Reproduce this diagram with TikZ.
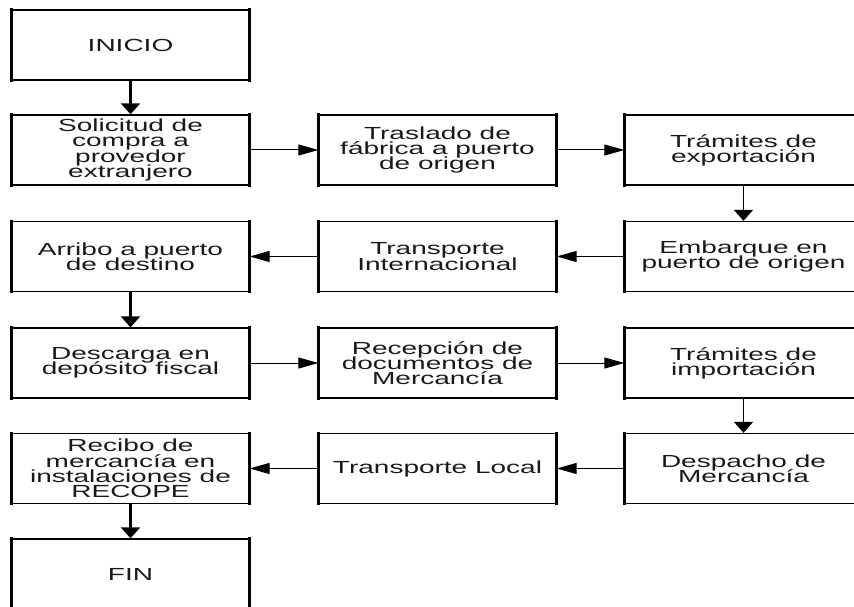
\documentclass[tikz,border=0pt]{standalone}
\usepackage{fontspec}
\setmainfont{Liberation Sans}[FakeStretch=1.6]
\usetikzlibrary{arrows.meta}
\begin{document}
\begin{tikzpicture}[x=1pt,y=-1pt,
  box/.style={draw=black,line width=1.3pt,minimum width=237pt,minimum height=70pt,inner sep=0pt,
    align=center,text=black!90,font=\fontsize{17.5pt}{15.2pt}\selectfont},
  harr/.style={line width=1pt,-{Triangle[length=20pt,width=11pt]}},
  varrL/.style={line width=2.4pt,-{Triangle[length=11pt,width=19pt]}},
  varrR/.style={line width=1.5pt,-{Triangle[length=11pt,width=19pt]}},
  side/.style={line width=2.5pt,line cap=rect}]
\useasboundingbox (0,0) rectangle (854,607);
\clip (0,0) rectangle (854,607);
\lineskiplimit=-20pt
% nodes
\node[box] (ini) at (130.5,45) {INICIO};
\node[box] (sol) at (130.5,150) {Solicitud de\\compra a\\provedor\\extranjero};
\node[box] (tra) at (437.5,150) {Traslado de\\fábrica a puerto\\de origen};
\node[box] (tex) at (743.5,150) {Trámites de\\exportación};
\node[box] (arr) at (130.5,256.5) {Arribo a puerto\\de destino};
\node[box] (tin) at (437.5,256.5) {Transporte\\Internacional};
\node[box] (emb) at (743.5,256.5) {Embarque en\\puerto de origen};
\node[box] (des) at (130.5,363) {Descarga en\\depósito fiscal};
\node[box] (rec) at (437.5,363) {Recepción de\\documentos de\\Mercancía};
\node[box] (tim) at (743.5,363) {Trámites de\\importación};
\node[box] (rcb) at (130.5,468.5) {Recibo de\\mercancía en\\instalaciones de\\RECOPE};
\node[box] (tlo) at (437.5,468.5) {Transporte Local};
\node[box] (dsp) at (743.5,468.5) {Despacho de\\Mercancía};
\node[box] (fin) at (130.5,574) {FIN};
% thicker vertical sides
\foreach \n in {ini,sol,tra,tex,arr,tin,emb,des,rec,tim,rcb,tlo,dsp,fin}{
  \draw[side] (\n.north west) -- (\n.south west);
  \draw[side] (\n.north east) -- (\n.south east);
}
% connectors
\draw[varrL] (ini.south) -- (sol.north);
\draw[harr] (sol.east) -- (tra.west);
\draw[harr] (tra.east) -- (tex.west);
\draw[varrR] (tex.south) -- (emb.north);
\draw[harr] (emb.west) -- (tin.east);
\draw[harr] (tin.west) -- (arr.east);
\draw[varrL] (arr.south) -- (des.north);
\draw[harr] (des.east) -- (rec.west);
\draw[harr] (rec.east) -- (tim.west);
\draw[varrR] (tim.south) -- (dsp.north);
\draw[harr] (dsp.west) -- (tlo.east);
\draw[harr] (tlo.west) -- (rcb.east);
\draw[varrL] (rcb.south) -- (fin.north);
\end{tikzpicture}
\end{document}
